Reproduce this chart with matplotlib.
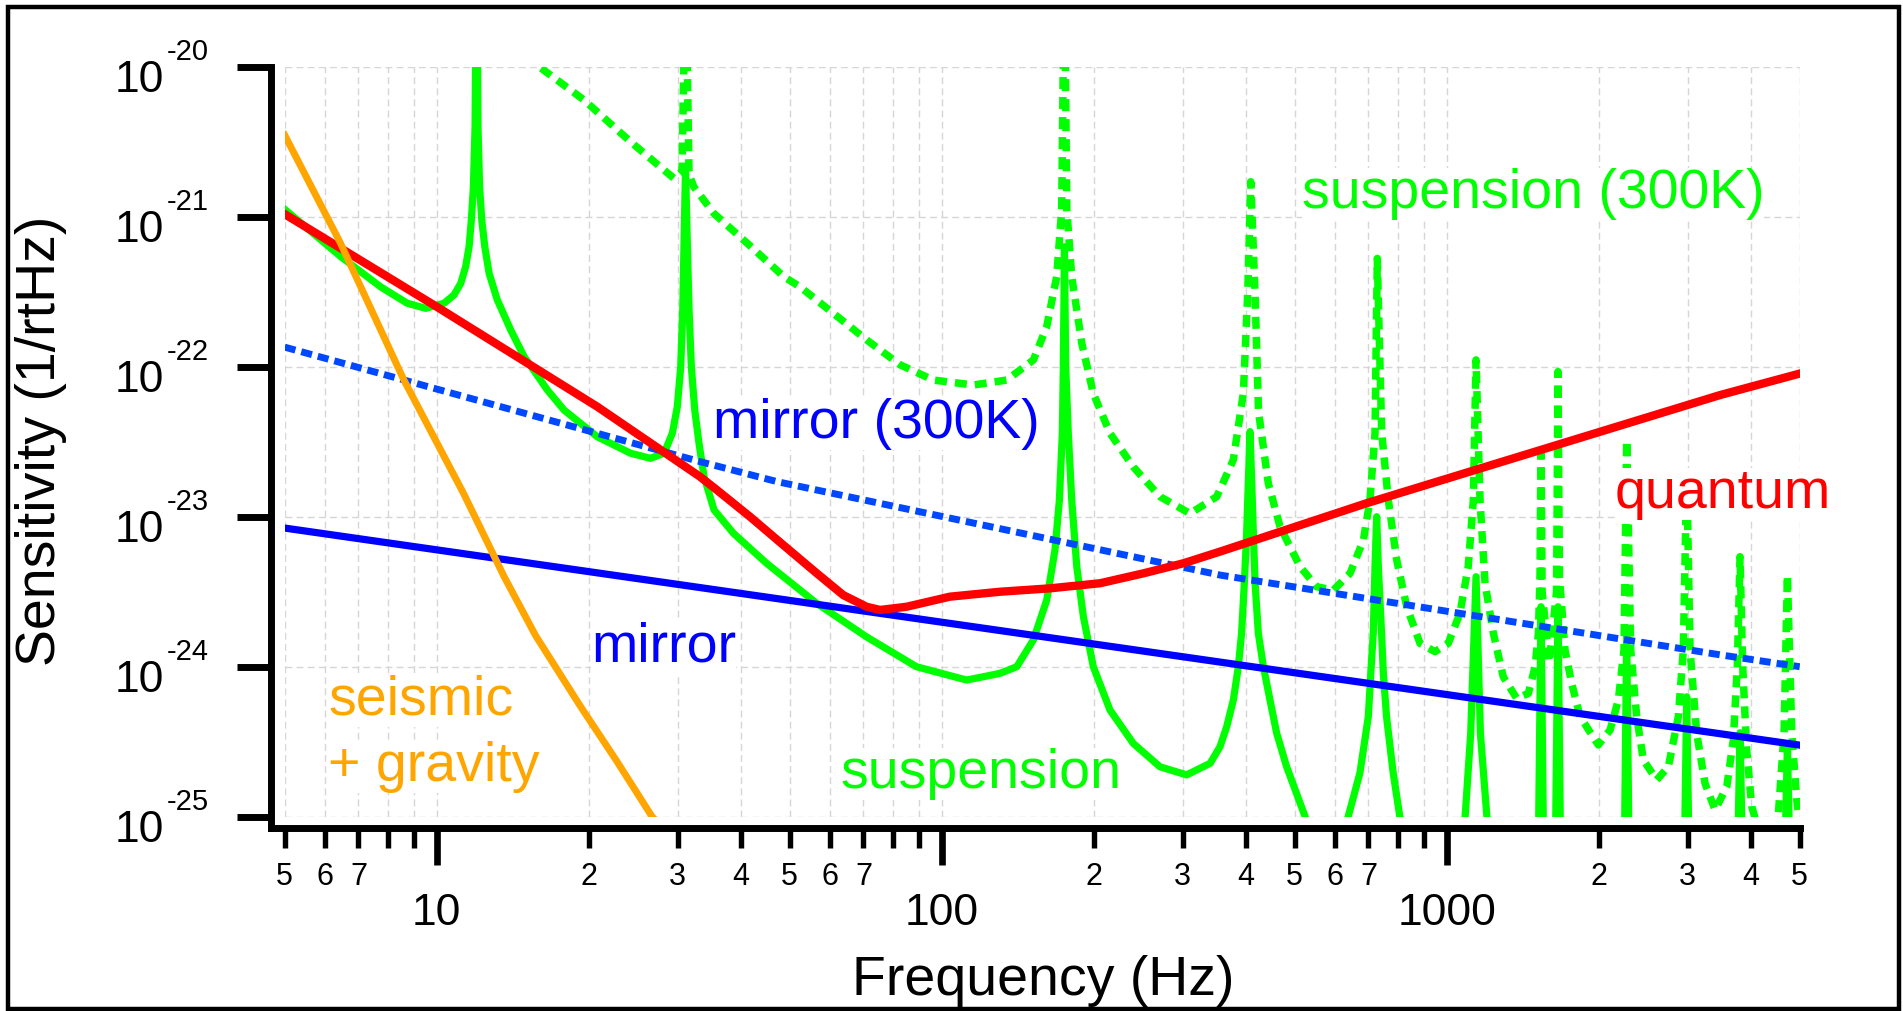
import matplotlib
matplotlib.use("Agg")
import matplotlib.pyplot as plt
from matplotlib.patches import Rectangle
from matplotlib.ticker import NullLocator

plt.rcParams['font.family'] = ['Liberation Sans', 'DejaVu Sans']

# ==========================================
# data (Hz, 1/rtHz)
# ==========================================

seismic = [(5, 3.5e-21), (6.45, 6.65e-22), (8.61, 8.15e-23), (11.3, 1.43e-23),
           (13.6, 3.98e-24), (15.7, 1.61e-24), (19.3, 5.38e-25), (22.7, 2.36e-25),
           (26.7, 1.0e-25), (28.5, 8.0e-26)]

quantum = [(5, 1.04e-21), (10.0, 2.51e-22), (20.8, 5.41e-23), (33.2, 1.85e-23),
           (35.85, 1.51e-23), (41.72, 1.0e-23), (48.57, 6.47e-24), (56.55, 4.2e-24),
           (63.85, 3.0e-24), (71.0, 2.51e-24), (75.5, 2.39e-24), (85.2, 2.51e-24),
           (103.8, 2.93e-24), (130.4, 3.16e-24), (163.9, 3.33e-24), (205.8, 3.60e-24),
           (250.7, 4.19e-24), (300.9, 4.89e-24), (355.6, 5.85e-24), (694, 1.23e-23),
           (3477, 6.47e-23), (5000, 9.0e-23)]

mirror = [(5, 8.4e-24), (5000, 3.0e-25)]

mirror_300k = [(5, 1.35e-22), (33.2, 2.33e-23), (47.3, 1.71e-23), (356, 4.08e-24),
               (3477, 1.2e-24), (5000, 1.0e-24)]

suspension = [
    (5, 1.12e-21), (6.46, 5.41e-22), (7.74, 3.41e-22), (8.74, 2.65e-22), (9.51, 2.45e-22),
    (10.34, 2.65e-22), (10.82, 3.01e-22), (11.16, 3.60e-22), (11.41, 4.65e-22), (11.59, 6.31e-22),
    (11.71, 9.5e-22), (11.82, 1.58e-21), (11.91, 3.98e-21), (12.0, 1e-19), (12.07, 3.98e-21),
    (12.16, 1.58e-21), (12.28, 9.5e-22), (12.45, 6.31e-22), (12.70, 4.19e-22), (13.18, 2.79e-22),
    (14.01, 1.76e-22), (14.89, 1.17e-22), (16.56, 7.0e-23), (17.87, 5.14e-23), (20.8, 3.41e-23),
    (24.2, 2.65e-23), (26.5, 2.45e-23), (28.2, 2.65e-23), (29.28, 3.6e-23), (29.95, 5.41e-23),
    (30.42, 1.0e-22), (30.70, 2.39e-22), (30.88, 6.65e-22), (31.02, 1.43e-21), (31.1, 2.05e-21),
    (31.18, 1.43e-21), (31.35, 6.65e-22), (31.60, 2.39e-22), (31.93, 1.0e-22), (32.43, 5.14e-23),
    (33.07, 3.08e-23), (33.83, 1.85e-23), (35.41, 1.11e-23), (38.7, 7.74e-24), (45.0, 4.89e-24),
    (56.5, 2.65e-24), (71.0, 1.58e-24), (89.1, 1.0e-24), (112, 8.15e-25), (120.9, 8.57e-25),
    (130.5, 9.04e-25), (140.8, 1.0e-24), (151.9, 1.51e-24), (161.4, 2.78e-24), (167.6, 6.0e-24),
    (171.0, 1.29e-23), (173.3, 3.6e-23), (174.1, 1.0e-22), (175.0, 6.31e-22), (176.0, 1.0e-22),
    (178.1, 3.6e-23), (180.9, 1.29e-23), (185.1, 4.65e-24), (190.8, 2.15e-24), (199.6, 1.0e-24),
    (215.4, 5.14e-25), (239.5, 3.08e-25), (270.6, 2.15e-25), (305.5, 1.9e-25), (340, 2.27e-25),
    (355.7, 2.93e-25), (366.7, 3.98e-25), (378, 6.0e-25), (386.7, 1.0e-24), (392.4, 1.67e-24),
    (397.4, 3.6e-24), (401.6, 7.74e-24), (404.7, 1.67e-23), (407.8, 3.69e-23), (411.1, 1.67e-23),
    (414.1, 7.74e-24), (417.4, 3.6e-24), (423.6, 1.67e-24), (433.5, 1.0e-24), (446.7, 6.0e-25),
    (460.6, 3.6e-25), (482, 2.15e-25), (524.4, 1.0e-25), (580, 3e-26), (638, 1.0e-25),
    (673, 1.95e-25), (699.5, 4.65e-25), (707.3, 9.04e-25), (715.4, 1.67e-24), (721.1, 4.65e-24),
    (726.6, 1.0e-23), (732.1, 4.65e-24), (743, 1.67e-24), (749, 9.04e-25), (760, 4.65e-25),
    (783.5, 1.95e-25), (807.6, 1.0e-25), (950, 2e-26), (1087.5, 1.0e-25), (1115.6, 3.60e-25),
    (1143, 3.98e-24), (1166, 3.60e-25), (1201, 1.0e-25), (1360, 2e-26), (1520, 7.9e-26),
    (1537, 2.51e-24), (1554, 7.9e-26), (1600, 2e-26), (1643, 7.9e-26), (1661, 2.51e-24),
    (1679, 7.9e-26), (1950, 1e-26), (2250, 7.9e-26), (2272, 1.66e-24), (2294, 7.9e-26),
    (2600, 1e-26), (2960, 7.9e-26), (2987, 6.3e-25), (3014, 7.9e-26), (3400, 1e-26),
    (3775, 7.9e-26), (3809, 3.63e-25), (3843, 7.9e-26), (4250, 1e-26), (4685, 7.9e-26),
    (4727, 2.95e-25), (4770, 7.9e-26), (5000, 1e-26)]

suspension_300k = [
    (14.0, 1.45e-20), (15.95, 1.0e-20), (19.57, 6.0e-21), (24.2, 3.16e-21), (29.5, 1.80e-21),
    (30.6, 2.0e-21), (31.1, 5e-20), (31.6, 1.91e-21), (32.3, 1.58e-21), (35.4, 1.05e-21),
    (41.2, 6.65e-22), (48.7, 3.98e-22), (52.4, 3.41e-22), (61.0, 2.27e-22), (71.0, 1.51e-22),
    (82.7, 1.03e-22), (96.2, 8.15e-23), (115.5, 7.55e-23), (134.5, 8.15e-23), (151.9, 1.11e-22),
    (161.4, 1.85e-22), (168.9, 3.98e-22), (172.8, 1.11e-21), (174.9, 5e-20), (176.9, 1.11e-21),
    (180.9, 3.98e-22), (189.4, 1.43e-22), (199.6, 6.64e-23), (215.4, 3.60e-23), (239.5, 2.15e-23),
    (270.6, 1.36e-23), (310.2, 1.05e-23), (350.4, 1.36e-23), (377.9, 2.39e-23), (395.6, 6.64e-23),
    (403.6, 3.08e-22), (409.2, 1.71e-21), (417.3, 3.08e-22), (424, 5.01e-23), (443.3, 1.67e-23),
    (467.7, 8.57e-24), (512.3, 4.65e-24), (552.8, 3.41e-24), (596.5, 3.24e-24), (643.5, 4.19e-24),
    (683.9, 6.98e-24), (704.7, 1.29e-23), (721.1, 3.60e-23), (728.7, 5.27e-22), (743.5, 3.60e-23),
    (766.3, 1.29e-23), (796.2, 5.14e-24), (833.4, 2.51e-24), (885.3, 1.43e-24), (948, 1.26e-24),
    (1007, 1.43e-24), (1062, 2.27e-24), (1103, 4.65e-24), (1129, 1.29e-23), (1143, 1.11e-22),
    (1164, 1.29e-23), (1191, 3.60e-24), (1237, 1.67e-24), (1294, 8.57e-25), (1376, 6.15e-25),
    (1451, 6.64e-25), (1496, 1.0e-24), (1519, 1.67e-24), (1530, 3.98e-24), (1537, 3.08e-23),
    (1545, 3.16e-24), (1596, 1.07e-24), (1650, 3.16e-24), (1661, 9.27e-23), (1672, 3.98e-24),
    (1715, 1.29e-24), (1768, 7.74e-25), (1837, 4.65e-25), (1996, 3.01e-25), (2106, 3.78e-25),
    (2187, 6.0e-25), (2244, 1.29e-24), (2272, 3.24e-23), (2314, 1.29e-24), (2378, 4.65e-25),
    (2451, 2.39e-25), (2605, 1.76e-25), (2747, 2.15e-25), (2875, 4.65e-25), (2941, 1.29e-24),
    (2987, 2.0e-23), (3033, 1.29e-24), (3126, 3.60e-25), (3247, 1.67e-25), (3399, 1.11e-25),
    (3585, 1.58e-25), (3694, 3.24e-25), (3762, 1.0e-24), (3809, 5.41e-24), (3856, 1.0e-24),
    (3926, 2.79e-25), (4018, 1.17e-25), (4236, 6.3e-26), (4537, 1.05e-25), (4656, 3.60e-25),
    (4727, 4.08e-24), (4823, 3.60e-25), (4934, 1.29e-25), (5000, 8.9e-26)]

major_ticks = [10, 100, 1000]
major_labels = ["10", "100", "1000"]
minor_ticks = [5, 6, 7, 8, 9, 20, 30, 40, 50, 60, 70, 80, 90,
               200, 300, 400, 500, 600, 700, 800, 900, 2000, 3000, 4000, 5000]
minor_labels = ["5", "6", "7", "", "", "2", "3", "4", "5", "6", "7", "", "",
                "2", "3", "4", "5", "6", "7", "", "", "2", "3", "4", "5"]
y_exponents = [-20, -21, -22, -23, -24, -25]

# ==========================================

W, H = 1903, 1011
fig = plt.figure(figsize=(W / 100, H / 100), dpi=100)
fig.patch.set_facecolor("white")
ax = fig.add_axes([284.7 / W, (H - 816.7) / H, 1515 / W, 750 / H])
ax.set_xscale("log")
ax.set_yscale("log")


def xy(points):
    return [p[0] for p in points], [p[1] for p in points]


GREEN = "#00ff00"
ax.plot(*xy(suspension_300k), color=GREEN, lw=5.4, ls=(0, (1.6, 1.07)), zorder=2)
ax.plot(*xy(suspension), color=GREEN, lw=5.2, zorder=3)
ax.plot(*xy(mirror_300k), color="#0048ff", lw=5.0, ls=(0, (1.6, 0.87)), zorder=4)
ax.plot(*xy(mirror), color="#0000ff", lw=5.2, zorder=5)
ax.plot(*xy(quantum), color="#ff0000", lw=6.0, zorder=6)
ax.plot(*xy(seismic), color="#ffa500", lw=5.0, zorder=7)

ax.set_xlim(5, 5000)
ax.set_ylim(1e-25, 1e-20)

# axes: thick offset spines like the original
for s in ["top", "right"]:
    ax.spines[s].set_visible(False)
ax.spines["left"].set_position(("outward", 9.86))
ax.spines["bottom"].set_position(("outward", 8.14))
for s in ["left", "bottom"]:
    ax.spines[s].set_linewidth(5)
ax.spines["left"].set_bounds(8.41e-26, 1e-20)
ax.spines["bottom"].set_bounds(4.70, 5000)

ax.set_xticks(major_ticks)
ax.set_xticklabels(major_labels)
ax.set_xticks(minor_ticks, minor=True)
ax.set_xticklabels(minor_labels, minor=True)
ax.tick_params(axis="x", which="major", direction="out", length=26.6, width=4.8,
               pad=20, labelsize=32)
ax.tick_params(axis="x", which="minor", direction="out", length=14.4, width=3.9,
               pad=9.9, labelsize=22)

ax.set_yticks([10.0 ** e for e in y_exponents])
ax.set_yticklabels([])
ax.yaxis.set_minor_locator(NullLocator())
ax.tick_params(axis="y", which="major", direction="out", length=24.8, width=5)

for e in y_exponents:
    ax.annotate("10", xy=(0, 10.0 ** e), xycoords=ax.get_yaxis_transform(),
                xytext=(-120.7, -25.5), textcoords="offset pixels",
                ha="right", va="baseline", fontsize=32, annotation_clip=False)
    ax.annotate(str(e), xy=(0, 10.0 ** e), xycoords=ax.get_yaxis_transform(),
                xytext=(-117.7, 6.7), textcoords="offset pixels",
                ha="left", va="baseline", fontsize=21, annotation_clip=False)

grid_kw = dict(color="#d6d6d6", lw=1.0, ls=(0, (5, 3)))
ax.grid(True, which="both", axis="x", **grid_kw)
ax.grid(True, which="major", axis="y", **grid_kw)

# curve labels (white box hides whatever is behind them)
box = dict(boxstyle="square,pad=0", fc="white", ec="none")
labels = [
    ("seismic", 6.09, 4.77e-25, "#ffa500"),
    ("+ gravity", 6.09, 1.73e-25, "#ffa500"),
    ("mirror", 20.2, 1.09e-24, "#0000ff"),
    ("mirror (300K)", 35.3, 3.35e-23, "#0000ff"),
    ("suspension", 62.9, 1.56e-25, GREEN),
    ("suspension (300K)", 516, 1.14e-21, GREEN),
    ("quantum", 2154, 1.14e-23, "#ff0000"),
]
for txt, x, y, c in labels:
    ax.text(x, y, txt, color=c, fontsize=40, ha="left", va="baseline",
            bbox=box, zorder=10)

fig.text(1043 / W, (H - 995) / H, "Frequency (Hz)", fontsize=40,
         ha="center", va="baseline")
fig.text(41 / W, (H - 441) / H, "Sensitivity (1/rtHz)", fontsize=40,
         rotation=90, ha="center", va="center")

fig.patches.append(Rectangle((8.2 / W, 2 / H), (1899 - 8.2) / W, (1009 - 7.2) / H,
                             transform=fig.transFigure, fill=False,
                             lw=3.2, ec="black"))

fig.savefig("out.png", dpi=100)
